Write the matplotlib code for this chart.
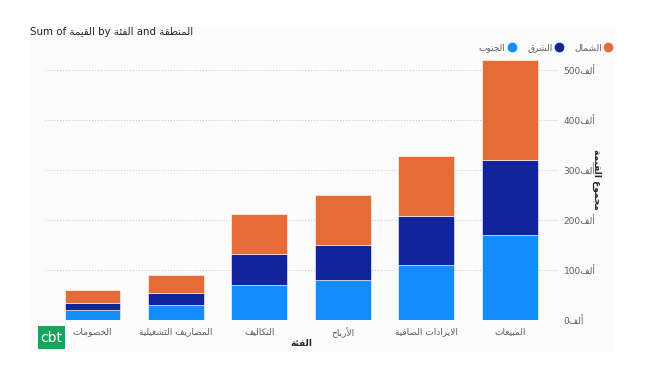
import numpy as np
import matplotlib
matplotlib.use('Agg')
import matplotlib.pyplot as plt
from matplotlib.patches import Rectangle
from matplotlib.lines import Line2D
from matplotlib.ticker import FuncFormatter, MultipleLocator

plt.rcParams['font.family'] = ['DejaVu Sans']

# arabic shaping: matplotlib draws letters one by one, left to right,
# so pick the presentation forms by hand and reverse the run
FORMS = {
    'ء': (0xFE80, 1), 'آ': (0xFE81, 2), 'أ': (0xFE83, 2), 'ؤ': (0xFE85, 2),
    'إ': (0xFE87, 2), 'ئ': (0xFE89, 4), 'ا': (0xFE8D, 2), 'ب': (0xFE8F, 4),
    'ة': (0xFE93, 2), 'ت': (0xFE95, 4), 'ث': (0xFE99, 4), 'ج': (0xFE9D, 4),
    'ح': (0xFEA1, 4), 'خ': (0xFEA5, 4), 'د': (0xFEA9, 2), 'ذ': (0xFEAB, 2),
    'ر': (0xFEAD, 2), 'ز': (0xFEAF, 2), 'س': (0xFEB1, 4), 'ش': (0xFEB5, 4),
    'ص': (0xFEB9, 4), 'ض': (0xFEBD, 4), 'ط': (0xFEC1, 4), 'ظ': (0xFEC5, 4),
    'ع': (0xFEC9, 4), 'غ': (0xFECD, 4), 'ف': (0xFED1, 4), 'ق': (0xFED5, 4),
    'ك': (0xFED9, 4), 'ل': (0xFEDD, 4), 'م': (0xFEE1, 4), 'ن': (0xFEE5, 4),
    'ه': (0xFEE9, 4), 'و': (0xFEED, 2), 'ى': (0xFEEF, 2), 'ي': (0xFEF1, 4),
}
LAM_ALEF = {'آ': 0xFEF5, 'أ': 0xFEF7, 'إ': 0xFEF9, 'ا': 0xFEFB}


def shape(word):
    letters = []
    i = 0
    while i < len(word):
        c = word[i]
        if c == 'ل' and i + 1 < len(word) and word[i + 1] in LAM_ALEF:
            letters.append(('LA', LAM_ALEF[word[i + 1]]))
            i += 2
        else:
            letters.append((c, None))
            i += 1
    out = []
    for k, (c, la) in enumerate(letters):
        prev = letters[k - 1][0] if k > 0 else None
        nxt = letters[k + 1][0] if k + 1 < len(letters) else None
        joins_prev = prev in FORMS and FORMS[prev][1] == 4
        if c == 'LA':
            out.append(chr(la + (1 if joins_prev else 0)))
            continue
        if c not in FORMS:
            out.append(c)
            continue
        base, n = FORMS[c]
        joins_next = n == 4 and (nxt == 'LA' or nxt in FORMS)
        if joins_prev and joins_next:
            f = 3
        elif joins_prev:
            f = 1 if n > 1 else 0
        elif joins_next:
            f = 2
        else:
            f = 0
        out.append(chr(base + f))
    return ''.join(out)


def ar(text):
    return ' '.join(shape(w) for w in text.split(' '))[::-1]


# data
categories = ['الخصومات', 'المصاريف التشغيلية', 'التكاليف', 'الأرباح',
              'الايرادات الصافية', 'المبيعات']
south = [20000, 30000, 70000, 80000, 110000, 170000]
east = [15000, 24000, 62000, 70000, 98000, 150000]
north = [25000, 36000, 80000, 100000, 120000, 200000]
series_names = ['الجنوب', 'الشرق', 'الشمال']
colors = ['#118DFF', '#12239E', '#E66C37']

fig = plt.figure(figsize=(6.51, 3.79), dpi=100)
W, H = 651, 379

# light card behind the visual
fig.patches.append(Rectangle((30 / W, 1 - 352 / H), 585 / W, 325 / H,
                             transform=fig.transFigure, facecolor='#fbfbfc',
                             edgecolor='none', zorder=-5))

ax = fig.add_axes([45 / W, 1 - 320 / H, 513 / W, 270 / H])
ax.set_facecolor('none')

x = np.arange(len(categories))
bottom = np.zeros(len(categories))
for vals, c in zip([south, east, north], colors):
    ax.bar(x, vals, width=0.67, bottom=bottom, color=c,
           edgecolor='white', linewidth=0.4, zorder=3)
    bottom += np.array(vals)

ax.set_xlim(-0.57, 5.58)
ax.set_ylim(0, 540000)
ax.yaxis.set_major_locator(MultipleLocator(100000))
ax.yaxis.set_major_formatter(FuncFormatter(lambda v, p: f'{int(v / 1000)}' + ar('ألف')))
ax.yaxis.tick_right()
ax.grid(axis='y', color='#c8c6c4', linestyle=(0, (1, 2)), linewidth=0.7, zorder=0)
for s in ax.spines.values():
    s.set_visible(False)
ax.tick_params(axis='both', length=0, labelsize=6.5, labelcolor='#605E5C')
ax.tick_params(axis='y', pad=4)
ax.tick_params(axis='x', pad=5)
ax.set_xticks(x)
ax.set_xticklabels([ar(c) for c in categories])

ax.set_xlabel(ar('الفئة'), fontsize=6.5, fontweight='bold', color='#252423', labelpad=1)
ax.yaxis.set_label_position('right')
ax.set_ylabel(ar('مجموع القيمة'), fontsize=6.5, fontweight='bold', color='#252423',
              rotation=-90, labelpad=3)
ax.yaxis.set_label_coords(1.085, 0.52)

fig.text(30 / W, 1 - 32 / H,
         'Sum of ' + ar('القيمة') + ' by ' + ar('الفئة') + ' and ' + ar('المنطقة'),
         fontsize=7.4, color='#252423', va='center', ha='left')

# legend, right to left: label then dot
handles = [Line2D([], [], marker='o', linestyle='none', markersize=6,
                  markerfacecolor=c, markeredgecolor=c) for c in colors]
ax.legend(handles, [ar(n) for n in series_names], ncol=3, markerfirst=False,
          frameon=False, fontsize=6.5, labelcolor='#605E5C',
          loc='center right', bbox_to_anchor=(620 / W, 1 - 48 / H),
          bbox_transform=fig.transFigure, handletextpad=0.3, columnspacing=1.3,
          handlelength=0.8)

# cbt logo
fig.patches.append(Rectangle((38 / W, 1 - 349 / H), 27 / W, 23 / H,
                             transform=fig.transFigure, facecolor='#1aa35c',
                             edgecolor='none', zorder=5))
fig.text(51.5 / W, 1 - 338 / H, 'cbt', color='white', fontsize=10,
         ha='center', va='center', zorder=6)

fig.savefig('out.png', dpi=100)
